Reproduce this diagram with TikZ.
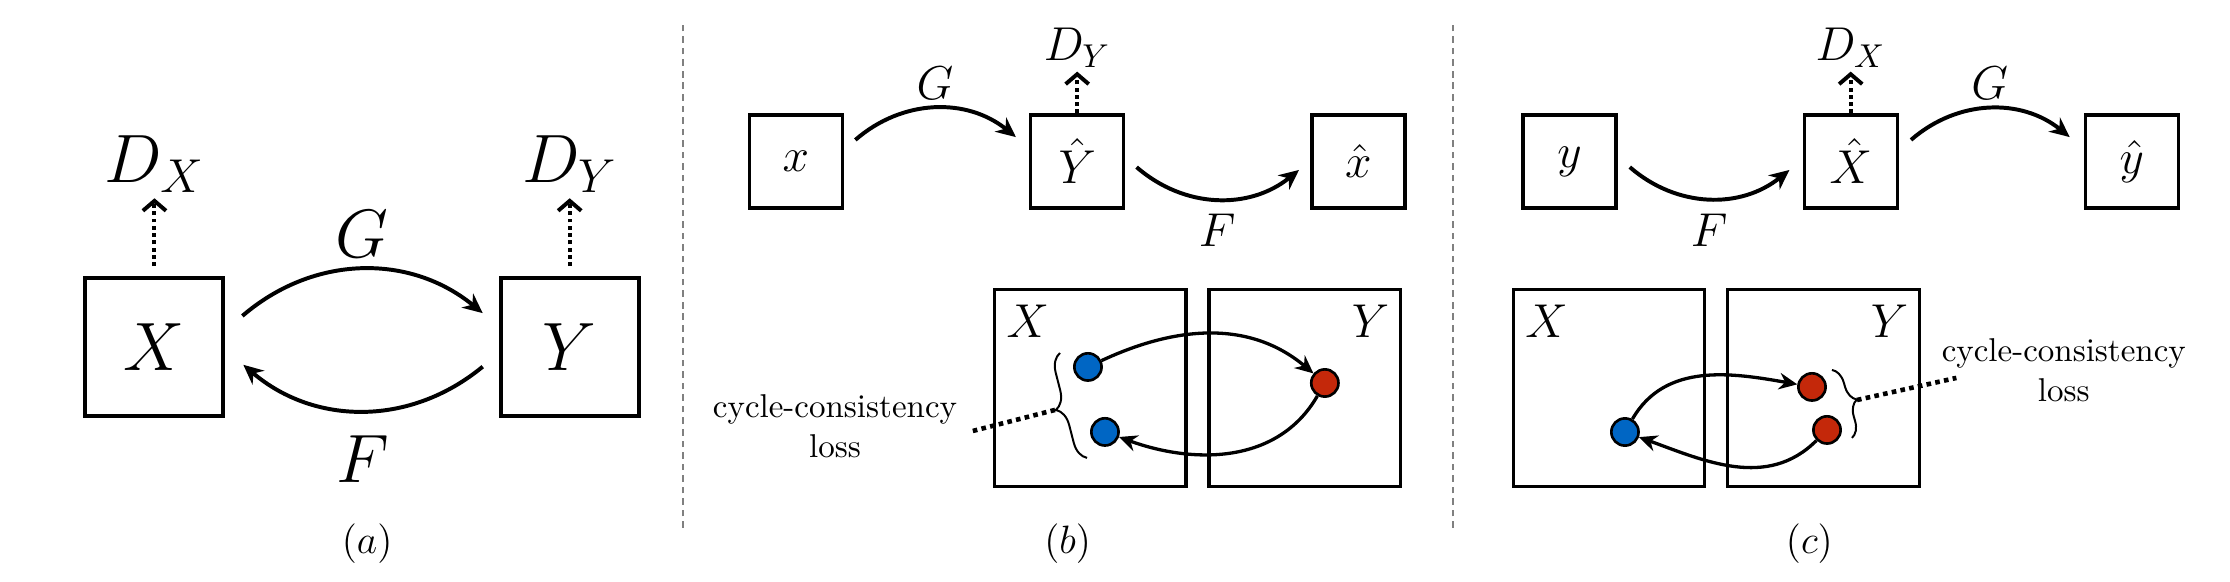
\documentclass[tikz,border=0pt]{standalone}
\usetikzlibrary{positioning, arrows.meta, decorations.pathreplacing}

\definecolor{dotblue}{RGB}{0,102,196}
\definecolor{dotred}{RGB}{196,40,10}

\begin{document}
\begin{tikzpicture}[
	bigbox/.style={draw, rectangle, line width=1.2pt, minimum width=1.47cm, minimum height=1.47cm, font=\huge},
	smallbox/.style={draw, rectangle, line width=1pt, minimum width=0.99cm, minimum height=0.99cm, inner sep=0pt, font=\Large},
	setbox/.style={draw, rectangle, line width=1pt, minimum width=2.04cm, minimum height=2.1cm},
	blob/.style={draw, circle, line width=0.8pt, minimum size=0.29cm, inner sep=0pt},
	biglabel/.style={inner sep=0pt, font=\huge},
	smalllabel/.style={inner sep=0pt, font=\Large},
	caption/.style={font=\large},
	arrow/.style={-{Stealth[length=6pt, width=5.5pt]}, line width=1.2pt},
	thinarrow/.style={-{Stealth[length=5.5pt, width=5pt]}, line width=1pt},
	dotarrow/.style={-{Straight Barb[length=3pt, width=7pt]}, line width=1.2pt, dash pattern=on 1.2pt off 1pt},
	lossline/.style={line width=1.4pt, dash pattern=on 1.4pt off 1.3pt},
	curly/.style={decorate, line width=0.6pt},
	divider/.style={gray, line width=0.5pt, dash pattern=on 2pt off 1.5pt}
	]

	\useasboundingbox (0,0) rectangle (23.75,6.198);

	% (a)
	\node[bigbox] (X) at (1.645,2.503) {$X$};
	\node[bigbox, right=2.91cm of X] (Y) {$Y$};
	\node[biglabel, above=0.88cm of X] (DX) {$D_X$};
	\node[biglabel, above=0.88cm of Y] (DY) {$D_Y$};

	\draw[dotarrow, shorten <=3pt, shorten >=1.5pt] (X.north) -- (DX.south);
	\draw[dotarrow, shorten <=3pt, shorten >=1.5pt] (Y.north) -- (DY.south);
	\draw[arrow] ([xshift=0.18cm, yshift=0.33cm]X.east) to[bend left=40] node[biglabel, above=3pt] (Ga) {$G$} ([xshift=-0.17cm, yshift=0.36cm]Y.west);
	\draw[arrow] ([xshift=-0.17cm, yshift=-0.21cm]Y.west) to[bend left=40] node[biglabel, below=7pt] (Fa) {$F$} ([xshift=0.19cm, yshift=-0.19cm]X.east);

	\node[caption] (capa) at (3.91,0.405) {$(a)$};

	\draw[divider] (7.274,0.575) -- (7.274,5.932);

	% (b)
	\node[smallbox] (xb) at (8.477,4.478) {$x$};
	\node[smallbox, right=1.97cm of xb] (Yb) {$\hat{Y}$};
	\node[smallbox, right=1.97cm of Yb] (xhb) {$\hat{x}$};
	\node[smalllabel, above=0.48cm of Yb] (DYb) {$D_Y$};

	\draw[dotarrow, shorten >=1pt] (Yb.north) -- (DYb.south);
	\draw[arrow] ([xshift=0.12cm, yshift=0.23cm]xb.east) to[bend left=40] node[smalllabel, above=2pt] (Gb) {$G$} ([xshift=-0.14cm, yshift=0.26cm]Yb.west);
	\draw[arrow] ([xshift=0.12cm, yshift=-0.06cm]Yb.east) to[bend right=40] node[smalllabel, below=4pt] (Fb) {$F$} ([xshift=-0.12cm, yshift=-0.09cm]xhb.west);

	\node[setbox] (Xsb) at (11.61,2.066) {};
	\node[setbox, right=0.21cm of Xsb] (Ysb) {};
	\node[smalllabel, anchor=north west] (Xlb) at ([xshift=0.14cm, yshift=-0.18cm]Xsb.north west) {$X$};
	\node[smalllabel, anchor=north east] (Ylb) at ([xshift=-0.13cm, yshift=-0.18cm]Ysb.north east) {$Y$};

	\node[blob, fill=dotblue] (xb1) at (11.587,2.29) {};
	\node[blob, fill=dotblue] (xb2) at (11.768,1.598) {};
	\node[blob, fill=dotred] (yb1) at (14.11,2.119) {};
	\draw[thinarrow] (xb1) to[out=25, in=140] (yb1);
	\draw[thinarrow] (yb1) to[out=240, in=340] (xb2);

	\coordinate (brb1) at (11.577,1.321);
	\coordinate (brb2) at (11.289,2.439);
	\coordinate (tipb) at (11.236,1.832);
	\draw[curly, decoration={brace, amplitude=5.5pt}] (brb1) -- (brb2);

	\node[align=center] (lossb) at (8.893,1.661) {cycle-consistency\\loss};
	\draw[lossline] (tipb) -- ([yshift=-0.064cm]lossb.east);

	\node[caption] (capb) at (11.37,0.405) {$(b)$};

	\draw[divider] (15.474,0.575) -- (15.474,5.932);

	% (c)
	\node[smallbox] (yc) at (16.715,4.478) {$y$};
	\node[smallbox, right=1.97cm of yc] (Xc) {$\hat{X}$};
	\node[smallbox, right=1.97cm of Xc] (yhc) {$\hat{y}$};
	\node[smalllabel, above=0.48cm of Xc] (DXc) {$D_X$};

	\draw[dotarrow, shorten >=1pt] (Xc.north) -- (DXc.south);
	\draw[arrow] ([xshift=0.13cm, yshift=-0.06cm]yc.east) to[bend right=40] node[smalllabel, below=4pt] (Fc) {$F$} ([xshift=-0.14cm, yshift=-0.09cm]Xc.west);
	\draw[arrow] ([xshift=0.13cm, yshift=0.23cm]Xc.east) to[bend left=40] node[smalllabel, above=2pt] (Gc) {$G$} ([xshift=-0.15cm, yshift=0.26cm]yhc.west);

	\node[setbox] (Xsc) at (17.136,2.066) {};
	\node[setbox, right=0.21cm of Xsc] (Ysc) {};
	\node[smalllabel, anchor=north west] (Xlc) at ([xshift=0.14cm, yshift=-0.18cm]Xsc.north west) {$X$};
	\node[smalllabel, anchor=north east] (Ylc) at ([xshift=-0.13cm, yshift=-0.18cm]Ysc.north east) {$Y$};

	\node[blob, fill=dotblue] (xc1) at (17.306,1.597) {};
	\node[blob, fill=dotred] (yc1) at (19.298,2.077) {};
	\node[blob, fill=dotred] (yc2) at (19.458,1.619) {};
	\draw[thinarrow] (xc1) to[out=60, in=170] (yc1);
	\draw[thinarrow] (yc2) to[out=225, in=340] (xc1);

	\coordinate (brc1) at (19.511,2.258);
	\coordinate (brc2) at (19.724,1.534);
	\coordinate (tipc) at (19.777,1.938);
	\draw[curly, decoration={brace, amplitude=4.7pt}] (brc1) -- (brc2);

	\node[align=center] (lossc) at (21.98,2.258) {cycle-consistency\\loss};
	\draw[lossline] (tipc) -- ([xshift=0.28cm, yshift=-0.085cm]lossc.west);

	\node[caption] (capc) at (19.27,0.405) {$(c)$};

\end{tikzpicture}
\end{document}
